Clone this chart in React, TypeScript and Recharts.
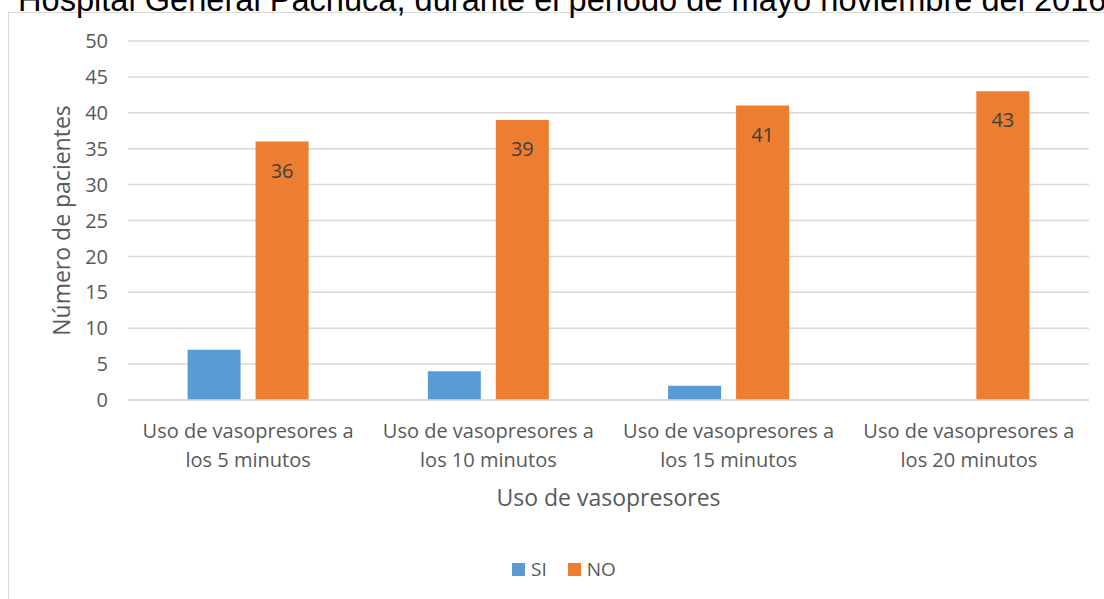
import { BarChart, Bar, XAxis, YAxis, CartesianGrid, Legend, LabelList, Label } from 'recharts';

// Pacientes con uso de vasopresores por tiempo de evaluación
const categories = [
  'Uso de vasopresores a los 5 minutos',
  'Uso de vasopresores a los 10 minutos',
  'Uso de vasopresores a los 15 minutos',
  'Uso de vasopresores a los 20 minutos',
];
const siValues = [7, 4, 2, 0];
const noValues = [36, 39, 41, 43];
const yTicks = [0, 5, 10, 15, 20, 25, 30, 35, 40, 45, 50];

const data = categories.map((name, i) => ({ name, SI: siValues[i], NO: noValues[i] }));

const FONT = '"Open Sans", sans-serif';
const GRAY = '#595959';
const BLUE = '#5b9bd5';
const ORANGE = '#ed7d31';

// category labels break before "los ..."
const CategoryTick = (props: any) => {
  const { x, y, payload } = props;
  const text: string = payload.value;
  const cut = text.indexOf(' los');
  const lines = [text.slice(0, cut), text.slice(cut + 1)];
  return (
    <g transform={`translate(${x},${y})`}>
      {lines.map((l, i) => (
        <text key={i} x={0} y={i * 29} dy={30} textAnchor="middle" fill={GRAY} fontSize={20} fontFamily={FONT}>
          {l}
        </text>
      ))}
    </g>
  );
};

const LegendContent = () => (
  <div style={{ display: 'flex', justifyContent: 'center', gap: 21, fontFamily: FONT, fontSize: 19, color: GRAY }}>
    {[{ k: 'SI', c: BLUE }, { k: 'NO', c: ORANGE }].map((it) => (
      <div key={it.k} style={{ display: 'flex', alignItems: 'center' }}>
        <span style={{ width: 13, height: 13, background: it.c, display: 'inline-block', marginRight: 6 }}></span>
        <span>{it.k}</span>
      </div>
    ))}
  </div>
);

export default function App() {
  return (
    <div style={{ position: 'absolute', left: 0, top: 0, width: 1104, height: 599, overflow: 'hidden', background: '#fff' }}>
      <div style={{ position: 'absolute', left: 8, top: 12, width: 1200, height: 700, border: '1.5px solid #d9d9d9' }}></div>
      <svg style={{ position: 'absolute', left: 0, top: 0 }} width={1104} height={30}>
        <text x={18} y={11} fontFamily='"Liberation Sans", Arial, sans-serif' fontSize={32.6} fill="#000">
          Hospital General Pachuca, durante el periodo de mayo noviembre del 2016
        </text>
      </svg>
      <div style={{ position: 'absolute', left: 0, top: 0 }}>
        <BarChart
          width={1104}
          height={599}
          data={data}
          margin={{ top: 41, right: 15, left: 0, bottom: 53 }}
          barCategoryGap="24.8%"
          barGap={15}
        >
          <CartesianGrid vertical={false} stroke="#d9d9d9" strokeWidth={1.5} />
          <XAxis
            dataKey="name"
            height={120}
            tick={<CategoryTick />}
            tickLine={false}
            axisLine={{ stroke: '#d9d9d9', strokeWidth: 1.5 }}
            interval={0}
          >
            <Label value="Uso de vasopresores" position="insideTop" offset={90} fill={GRAY} fontSize={23} fontFamily={FONT} />
          </XAxis>
          <YAxis
            width={128}
            domain={[0, 50]}
            ticks={yTicks}
            tickLine={false}
            axisLine={false}
            tickSize={0}
            tickMargin={20}
            tick={{ fill: GRAY, fontSize: 20, fontFamily: FONT }}
          >
            <Label value="Número de pacientes" angle={-90} position="center" dx={-2} fill={GRAY} fontSize={23} fontFamily={FONT} />
          </YAxis>
          <Legend content={<LegendContent />} wrapperStyle={{ left: 0, top: 556, width: 1128 }} />
          <Bar dataKey="SI" fill={BLUE} isAnimationActive={false} />
          <Bar dataKey="NO" fill={ORANGE} isAnimationActive={false}>
            <LabelList dataKey="NO" position="insideTop" offset={22} fill="#404040" fontSize={20} fontFamily={FONT} />
          </Bar>
        </BarChart>
      </div>
    </div>
  );
}
